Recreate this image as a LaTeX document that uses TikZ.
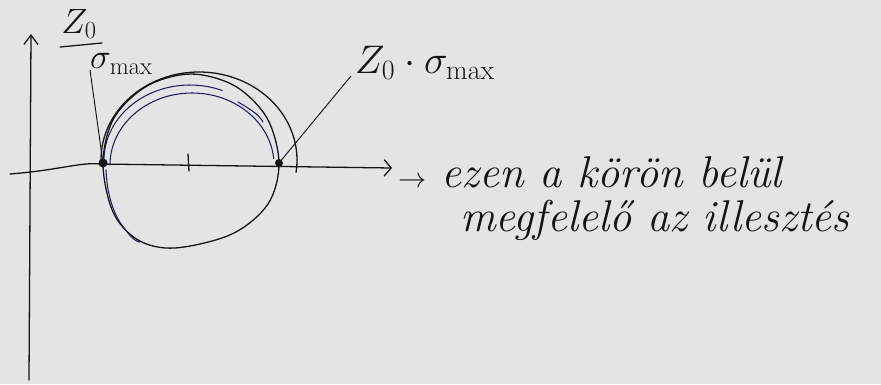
\RequirePackage{fix-cm}
\documentclass[tikz,border=0pt]{standalone}
\usepackage{fontspec}
\definecolor{paper}{HTML}{E4E4E4}
\definecolor{ink}{HTML}{141414}
\definecolor{bluepen}{HTML}{1C1F5A}
\usetikzlibrary{arrows.meta,positioning,calc}

\begin{document}
\begin{tikzpicture}[x=0.03cm, y=-0.03cm,
    pen/.style={draw=ink, line width=1.1pt, line cap=round, line join=round},
    bluestroke/.style={draw=bluepen, line width=0.9pt, line cap=round},
    handtext/.style={text=ink, font=\fontsize{38}{44}\selectfont\itshape, inner sep=0pt},
    labeltext/.style={text=ink, font=\fontsize{30}{36}\selectfont, inner sep=0pt}]
  % paper
  \fill[paper] (0,0) rectangle (881,384);
  \useasboundingbox (0,0) rectangle (881,384);

  % axes
  \coordinate (ybot) at (29,380);
  \coordinate (ytop) at (31,34);
  \coordinate (xleft) at (10,174);
  \coordinate (xright) at (392,168);
  \draw[pen, -{Straight Barb[length=8pt, width=12pt]}] (ybot) -- (ytop);
  \draw[pen, -{Straight Barb[length=6pt, width=14pt]}] (xleft) .. controls (60,170) and (80,162) .. (100,164) -- (xright);

  % points on the real axis
  \coordinate (zmin) at (103,163);
  \coordinate (zmid) at (188,163);
  \coordinate (zmax) at (279,163);
  \draw[pen] ($(zmid)+(0,-9)$) -- ($(zmid)+(1,8)$);
  \fill[ink] (zmin) circle (4.5);
  \fill[ink] (zmax) circle (4);

  % the circle, several strokes
  \draw[pen] plot[smooth cycle, tension=0.55] coordinates {
    (103,163) (114,118) (147,86) (191,74) (235,86) (267,118) (279,163)
    (268,204) (232,234) (175,248) (138,240) (113,212)};
  \draw[pen] (101,160) arc[start angle=180, end angle=368, x radius=98, y radius=88];
  \draw[bluestroke] (104,160) arc[start angle=180, end angle=292, x radius=86, y radius=75];
  \draw[bluestroke] (110,165) arc[start angle=180, end angle=355, x radius=82, y radius=72];
  \draw[bluestroke] plot[smooth, tension=0.9] coordinates {
    (238,102) (255,113) (263,122)};
  \draw[bluestroke] plot[smooth, tension=0.9] coordinates {
    (106,170) (112,205) (128,233) (140,242)};

  % labels
  \node[labeltext] (znum) at (79,24) {$Z_0$};
  \draw[pen] (60,47) -- (102,43);
  \node[labeltext, anchor=west] (zden) at (90,64) {$\sigma_{\mathrm{max}}$};
  \node[labeltext, font=\fontsize{34}{40}\selectfont, anchor=west] (zhigh) at (355,63) {$Z_0\cdot\sigma_{\mathrm{max}}$};
  \draw[ink, line width=0.8pt] (90,70) -- (zmin);
  \draw[ink, line width=0.8pt] (351,76) -- (zmax);

  % note
  \node[handtext, anchor=west] (note1) at (398,172) {{\fontsize{24}{30}\selectfont$\rightarrow$} ezen a körön belül};
  \node[handtext, anchor=west] (note2) at (460,220) {megfelelő az illesztés};
\end{tikzpicture}
\end{document}
